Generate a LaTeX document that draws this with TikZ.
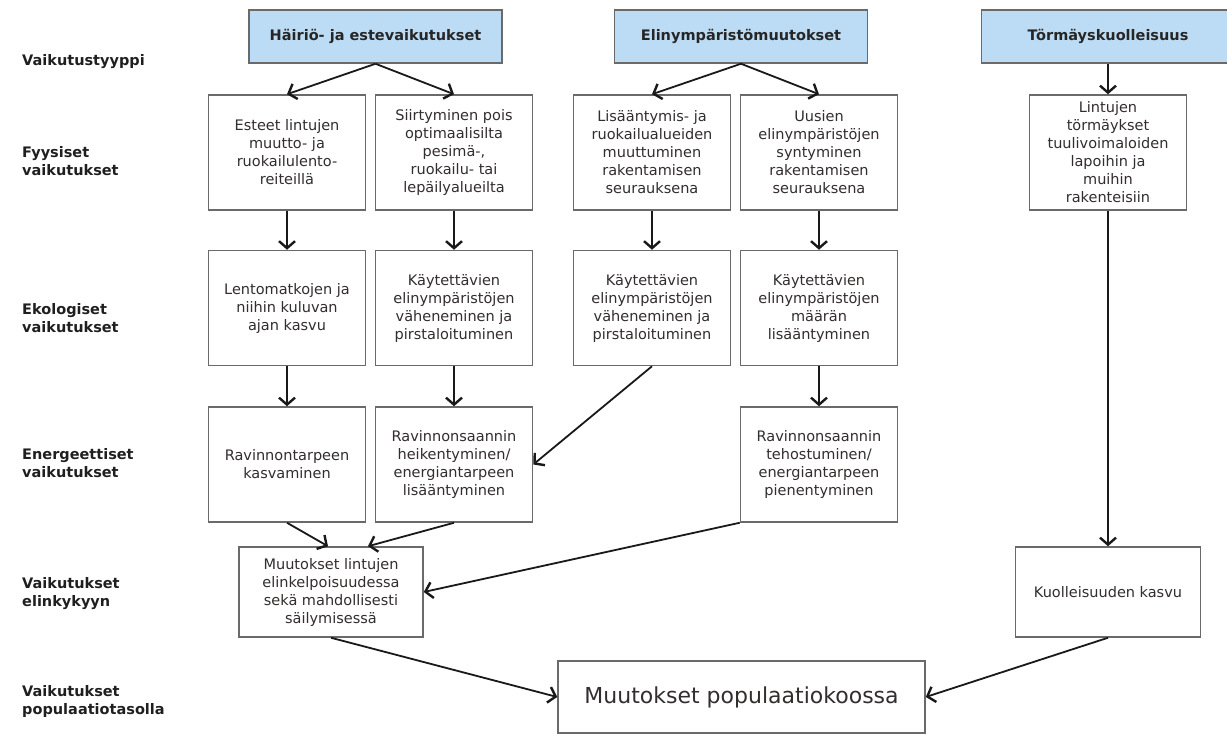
\documentclass[tikz,border=0pt]{standalone}
\usepackage{fontspec}
\setmainfont{DejaVu Sans}
\usetikzlibrary{arrows.meta,positioning}
\definecolor{vblue}{HTML}{BBDCF4}
\definecolor{vgray}{HTML}{6A6A6A}
\definecolor{vtext}{HTML}{332D2D}
\tikzset{
  typ/.style={draw=vgray,fill=vblue,line width=1.5pt,minimum width=253pt,minimum height=53pt,inner sep=2pt,font=\fontsize{14.5}{17.7}\selectfont\bfseries,text=black!85},
  box/.style={draw=vgray,fill=white,line width=1.5pt,align=center,minimum width=157pt,minimum height=115pt,inner sep=2pt,font=\fontsize{14.5}{18}\selectfont,text=vtext},
  lvl/.style={anchor=west,align=left,inner sep=0pt,font=\fontsize{14.5}{18}\selectfont\bfseries,text=black!88},
  arr/.style={-{Straight Barb[length=7pt,width=16pt,line width=2.4pt]},line width=1.8pt,draw=black!90},
}

\begin{document}
\begin{tikzpicture}[x=1pt,y=-1pt,node distance=39pt and 11pt]
\useasboundingbox (0,0) rectangle (1227,736);
% tasot
\node[lvl] (l1) at (22,62) {Vaikutustyyppi};
\node[lvl] (l2) at (22,161) {Fyysiset\\vaikutukset};
\node[lvl] (l3) at (22,318) {Ekologiset\\vaikutukset};
\node[lvl] (l4) at (22,463) {Energeettiset\\vaikutukset};
\node[lvl] (l5) at (22,594) {Vaikutukset\\elinkykyyn};
\node[lvl] (l6) at (22,701) {Vaikutukset\\populaatiotasolla};
% vaikutustyypit
\node[typ] (hai) at (375.5,36.5) {Häiriö- ja estevaikutukset};
\node[typ] (elin) at (741,36.5) {Elinympäristömuutokset};
\node[typ] (torm) at (1108,36.5) {Törmäyskuolleisuus};
% fyysiset
\node[box] (f1) at (287,152.5) {Esteet lintujen\\muutto- ja\\ruokailulento-\\reiteillä};
\node[box] (f2) at (454,152.5) {Siirtyminen pois\\optimaalisilta\\pesimä-,\\ruokailu- tai\\lepäilyalueilta};
\node[box] (f3) at (652,152.5) {Lisääntymis- ja\\ruokailualueiden\\muuttuminen\\rakentamisen\\seurauksena};
\node[box] (f4) at (819,152.5) {Uusien\\elinympäristöjen\\syntyminen\\rakentamisen\\seurauksena};
\node[box] (f5) at (1108,152.5) {Lintujen\\törmäykset\\tuulivoimaloiden\\lapoihin ja\\muihin\\rakenteisiin};
% ekologiset
\node[box, below=of f1] (e1) {Lentomatkojen ja\\niihin kuluvan\\ajan kasvu};
\node[box, below=of f2] (e2) {Käytettävien\\elinympäristöjen\\väheneminen ja\\pirstaloituminen};
\node[box, below=of f3] (e3) {Käytettävien\\elinympäristöjen\\väheneminen ja\\pirstaloituminen};
\node[box, below=of f4] (e4) {Käytettävien\\elinympäristöjen\\määrän\\lisääntyminen};
% energeettiset
\node[box, below=40pt of e1] (n1) {Ravinnontarpeen\\kasvaminen};
\node[box, below=40pt of e2] (n2) {Ravinnonsaannin\\heikentyminen/\\energiantarpeen\\lisääntyminen};
\node[box, below=40pt of e4] (n4) {Ravinnonsaannin\\tehostuminen/\\energiantarpeen\\pienentyminen};
% elinkyky ja populaatio
\node[box, minimum width=184pt, minimum height=90pt] (mut) at (331,592) {Muutokset lintujen\\elinkelpoisuudessa\\sekä mahdollisesti\\säilymisessä};
\node[box, minimum width=185pt, minimum height=90pt] (kuo) at (1108,592) {Kuolleisuuden kasvu};
\node[box, minimum width=367pt, minimum height=72pt, font=\fontsize{22}{26}\selectfont] (pop) at (741.5,697) {Muutokset populaatiokoossa};
% nuolet
\draw[arr] (hai.south) -- (f1.north); \draw[arr] (hai.south) -- (f2.north);
\draw[arr] (elin.south) -- (f3.north); \draw[arr] (elin.south) -- (f4.north);
\draw[arr] (torm.south) -- (f5.north);
\draw[arr] (f1) -- (e1); \draw[arr] (f2) -- (e2); \draw[arr] (f3) -- (e3); \draw[arr] (f4) -- (e4);
\draw[arr] (e1) -- (n1); \draw[arr] (e2) -- (n2); \draw[arr] (e4) -- (n4);
\draw[arr] (e3.south) -- (n2.east);
\draw[arr] (n1.south) -- ([xshift=-3pt]mut.north); \draw[arr] (n2.south) -- ([xshift=37pt]mut.north);
\draw[arr] (n4.south west) -- (mut.east);
\draw[arr] (f5) -- (kuo);
\draw[arr] (mut.south) -- (pop.west); \draw[arr] (kuo.south) -- (pop.east);
\end{tikzpicture}
\end{document}
